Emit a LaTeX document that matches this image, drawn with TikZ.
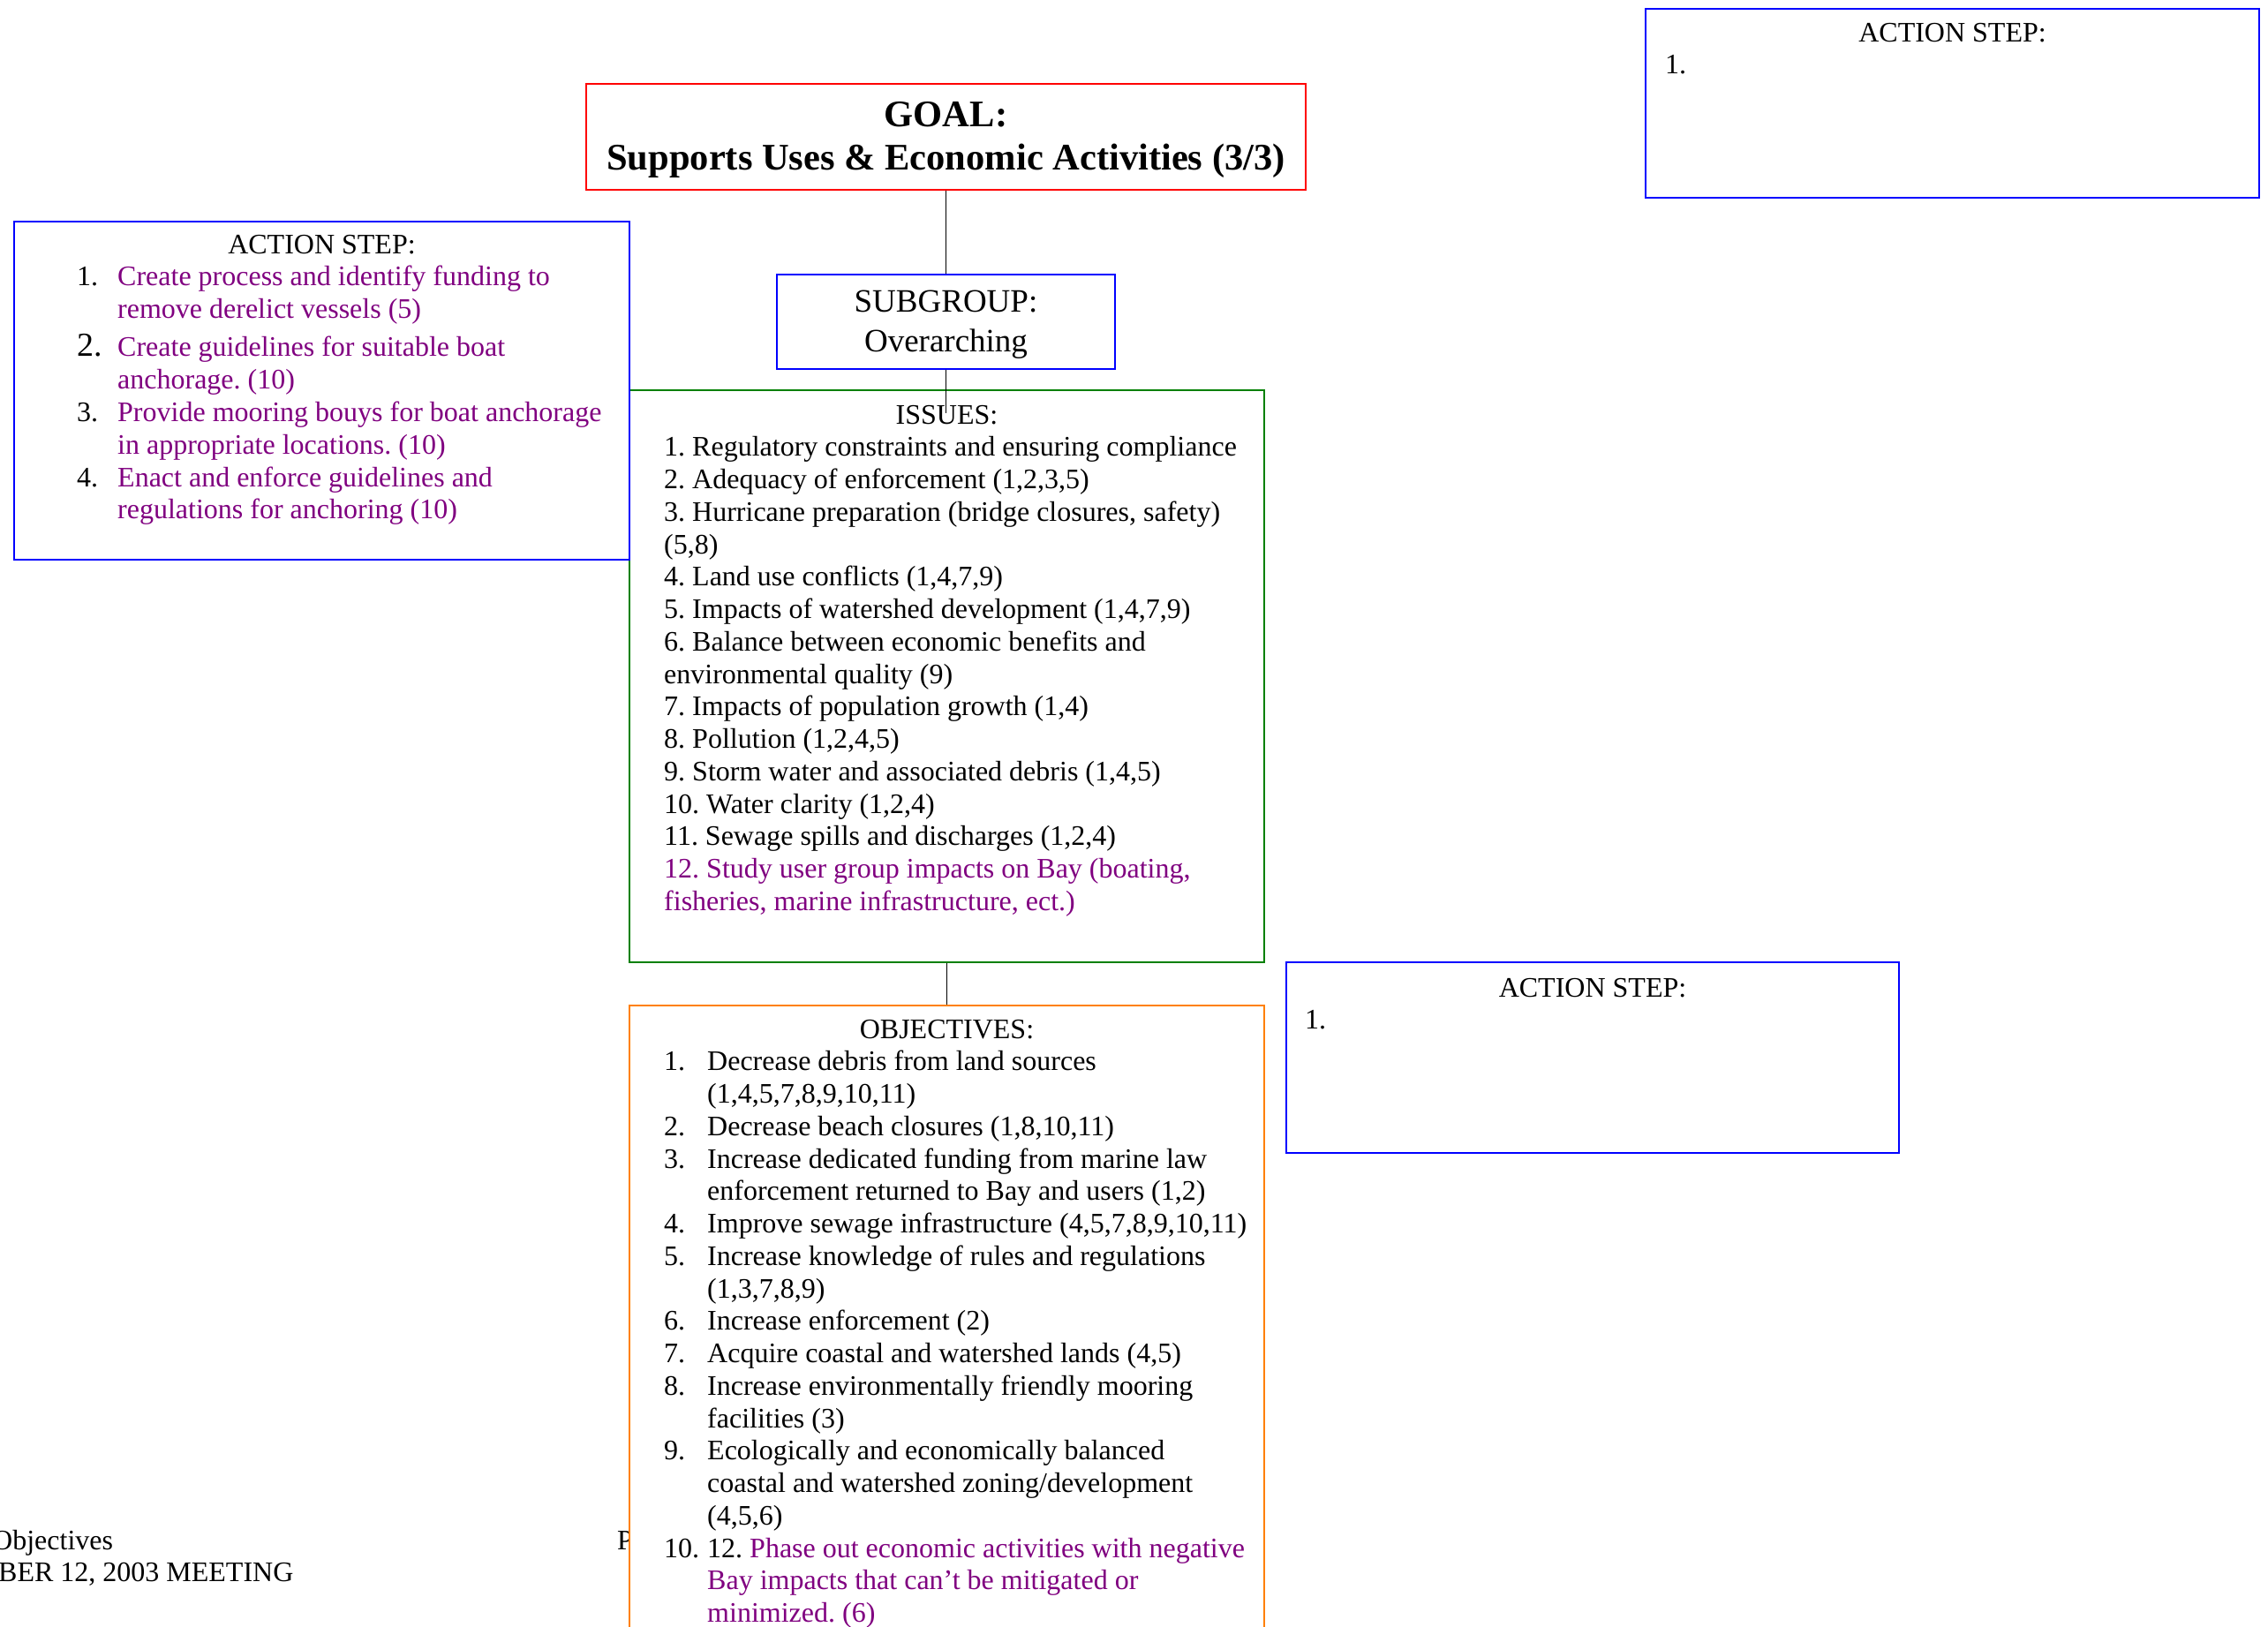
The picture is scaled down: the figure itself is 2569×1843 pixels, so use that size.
\documentclass[tikz,border=0pt]{standalone}
\usepackage{fontspec}
\setmainfont{Liberation Serif}
\frenchspacing
\definecolor{purp}{RGB}{128,0,128}
\definecolor{bbl}{RGB}{0,0,255}
\definecolor{rrd}{RGB}{255,0,0}
\definecolor{grn}{RGB}{0,128,0}
\definecolor{org}{RGB}{255,128,0}
\newcommand\myline[5]{\node[txt] (#1) at (#2,{#3+36.75*#4}) {#5};}
\begin{document}
\begin{tikzpicture}[x=1pt,y=-1pt,
  txt/.style={font=\fontsize{32}{37}\selectfont, inner sep=0pt, anchor=base west},
  ctxt/.style={font=\fontsize{32}{37}\selectfont, inner sep=0pt, anchor=base},
  box/.style={draw=#1, line width=1.6pt, rectangle, inner sep=0pt},
  conn/.style={draw=black, line width=1.8pt}]
\useasboundingbox (0,0) rectangle (2569,1843);
% footer text (partly hidden)
\node[txt] (ftA) at (-9,1755) {Objectives};
\node[txt] (ftB) at (-2,1791) {BER 12, 2003 MEETING};
\node[txt] (ftC) at (699,1755) {P};
% boxes
\node[box=rrd, minimum width=815pt, minimum height=120pt] (goal) at (1071.5,155) {};
\node[box=bbl, minimum width=383pt, minimum height=107pt] (sub) at (1071.5,364.5) {};
\node[box=grn, minimum width=719pt, minimum height=648pt] (iss) at (1072.5,766) {};
\node[box=org, fill=white, minimum width=719pt, minimum height=811pt] (obj) at (1072.5,1544.5) {};
\node[box=bbl, minimum width=697pt, minimum height=383pt] (la) at (364.5,442.5) {};
\node[box=bbl, minimum width=695pt, minimum height=214pt] (ta) at (2211.5,117) {};
\node[box=bbl, minimum width=694pt, minimum height=216pt] (ma) at (1804,1198) {};
% connectors
\coordinate (issTop) at (1073,468);
\draw[conn] (goal.south) -- (goal.south |- sub.north);
\draw[conn] (sub.south) -- (sub.south |- issTop);
\draw[conn] (iss.south) -- (obj.north);
% goal
\node[font=\fontsize{42.5}{50}\selectfont\bfseries, inner sep=0pt, anchor=base] (goalA) at (1071.5,144) {GOAL:};
\node[font=\fontsize{42.5}{50}\selectfont\bfseries, inner sep=0pt, anchor=base] (goalB) at (1071.5,193) {Supports Uses \& Economic Activities (3/3)};
% subgroup
\node[font=\fontsize{37}{44}\selectfont, inner sep=0pt, anchor=base] (subA) at (1071.5,354) {SUBGROUP:};
\node[font=\fontsize{37}{44}\selectfont, inner sep=0pt, anchor=base] (subB) at (1071.5,398) {Overarching};
% issues
\node[ctxt] (issT) at (1072.5,480) {ISSUES:};
\myline{i1}{752}{480}{1}{1. Regulatory constraints and ensuring compliance}
\myline{i2}{752}{480}{2}{2. Adequacy of enforcement (1,2,3,5)}
\myline{i3}{752}{480}{3}{3. Hurricane preparation (bridge closures, safety)}
\myline{i4}{752}{480}{4}{(5,8)}
\myline{i5}{752}{480}{5}{4. Land use conflicts (1,4,7,9)}
\myline{i6}{752}{480}{6}{5. Impacts of watershed development (1,4,7,9)}
\myline{i7}{752}{480}{7}{6. Balance between economic benefits and}
\myline{i8}{752}{480}{8}{environmental quality (9)}
\myline{i9}{752}{480}{9}{7. Impacts of population growth (1,4)}
\myline{i10}{752}{480}{10}{8. Pollution (1,2,4,5)}
\myline{i11}{752}{480}{11}{9. Storm water and associated debris (1,4,5)}
\myline{i12}{752}{480}{12}{10. Water clarity (1,2,4)}
\myline{i13}{752}{480}{13}{11. Sewage spills and discharges (1,2,4)}
\myline{i14}{752}{480}{14}{\color{purp}12. Study user group impacts on Bay (boating,}
\myline{i15}{752}{480}{15}{\color{purp}fisheries, marine infrastructure, ect.)}
% objectives
\node[ctxt] (objT) at (1072.5,1176) {OBJECTIVES:};
\myline{on1}{752}{1176}{1}{1.}
\myline{o1}{801}{1176}{1}{Decrease debris from land sources}
\myline{o2}{801}{1176}{2}{(1,4,5,7,8,9,10,11)}
\myline{on3}{752}{1176}{3}{2.}
\myline{o3}{801}{1176}{3}{Decrease beach closures (1,8,10,11)}
\myline{on4}{752}{1176}{4}{3.}
\myline{o4}{801}{1176}{4}{Increase dedicated funding from marine law}
\myline{o5}{801}{1176}{5}{enforcement returned to Bay and users (1,2)}
\myline{on6}{752}{1176}{6}{4.}
\myline{o6}{801}{1176}{6}{Improve sewage infrastructure (4,5,7,8,9,10,11)}
\myline{on7}{752}{1176}{7}{5.}
\myline{o7}{801}{1176}{7}{Increase knowledge of rules and regulations}
\myline{o8}{801}{1176}{8}{(1,3,7,8,9)}
\myline{on9}{752}{1176}{9}{6.}
\myline{o9}{801}{1176}{9}{Increase enforcement (2)}
\myline{on10}{752}{1176}{10}{7.}
\myline{o10}{801}{1176}{10}{Acquire coastal and watershed lands (4,5)}
\myline{on11}{752}{1176}{11}{8.}
\myline{o11}{801}{1176}{11}{Increase environmentally friendly mooring}
\myline{o12}{801}{1176}{12}{facilities (3)}
\myline{on13}{752}{1176}{13}{9.}
\myline{o13}{801}{1176}{13}{Ecologically and economically balanced}
\myline{o14}{801}{1176}{14}{coastal and watershed zoning/development}
\myline{o15}{801}{1176}{15}{(4,5,6)}
\myline{on16}{752}{1176}{16}{10.}
\myline{o16}{801}{1176}{16}{12. {\color{purp}Phase out economic activities with negative}}
\myline{o17}{801}{1176}{17}{\color{purp}Bay impacts that can’t be mitigated or}
\myline{o18}{801}{1176}{18}{\color{purp}minimized. (6)}
% left action step
\node[ctxt] (laT) at (364.5,288) {ACTION STEP:};
\myline{lan1}{87}{324}{0}{1.}
\myline{la1}{133}{324}{0}{\color{purp}Create process and identify funding to}
\myline{la2}{133}{360.75}{0}{\color{purp}remove derelict vessels (5)}
\node[txt, font=\fontsize{38}{44}\selectfont] (lan2) at (87,403) {2.};
\myline{la3}{133}{403}{0}{\color{purp}Create guidelines for suitable boat}
\myline{la4}{133}{440}{0}{\color{purp}anchorage. (10)}
\myline{lan3}{87}{477}{0}{3.}
\myline{la5}{133}{477}{0}{\color{purp}Provide mooring bouys for boat anchorage}
\myline{la6}{133}{514}{0}{\color{purp}in appropriate locations. (10)}
\myline{lan4}{87}{551}{0}{4.}
\myline{la7}{133}{551}{0}{\color{purp}Enact and enforce guidelines and}
\myline{la8}{133}{587}{0}{\color{purp}regulations for anchoring (10)}
% top-right action step
\node[ctxt] (taT) at (2211.5,47.5) {ACTION STEP:};
\myline{ta1}{1886}{84}{0}{1.}
% middle-right action step
\node[ctxt] (maT) at (1804,1129) {ACTION STEP:};
\myline{ma1}{1478}{1165}{0}{1.}
\end{tikzpicture}
\end{document}
